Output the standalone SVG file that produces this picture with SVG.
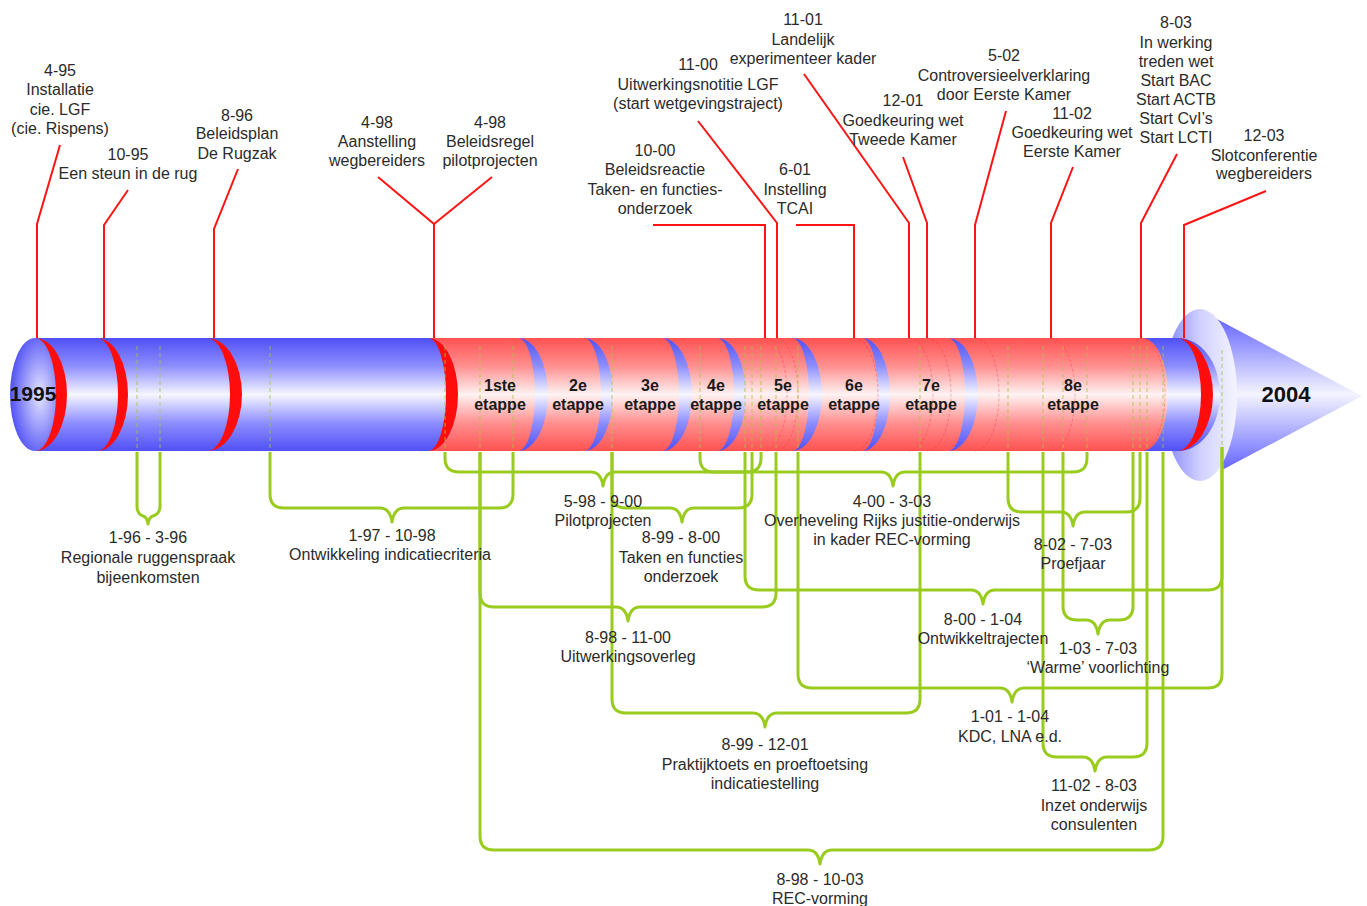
<svg xmlns="http://www.w3.org/2000/svg" width="1367" height="906" viewBox="0 0 1367 906">
<style>
.t{font-family:"Liberation Sans",Arial,sans-serif;font-size:16px;fill:#2b2b2b;text-anchor:middle}
.b{font-weight:bold;fill:#1a1a1a}
.rl{stroke:#ff1414;stroke-width:2;fill:none;stroke-linejoin:miter}
.br{stroke:#99cc1f;stroke-width:3;fill:none;stroke-linejoin:round}
.ds{stroke:#a6c43c;stroke-width:1;stroke-dasharray:4 3;fill:none;opacity:.8}
.ring{stroke:#ff2020;stroke-width:1;fill:none;opacity:.35;stroke-dasharray:3 2}
</style>
<defs>
<linearGradient id="gB" gradientUnits="userSpaceOnUse" x1="0" y1="338" x2="0" y2="451">
<stop offset="0" stop-color="#5050f6"/><stop offset=".25" stop-color="#8e8eff"/><stop offset=".5" stop-color="#f6f6ff"/><stop offset=".75" stop-color="#8e8eff"/><stop offset="1" stop-color="#5050f6"/>
</linearGradient>
<linearGradient id="gR" gradientUnits="userSpaceOnUse" x1="0" y1="338" x2="0" y2="451">
<stop offset="0" stop-color="#ff5252"/><stop offset=".25" stop-color="#ff9090"/><stop offset=".5" stop-color="#fff2f2"/><stop offset=".75" stop-color="#ff9090"/><stop offset="1" stop-color="#ff5252"/>
</linearGradient>
<linearGradient id="gC" x1="0" y1="0" x2="0" y2="1">
<stop offset="0" stop-color="#6464ff"/><stop offset=".5" stop-color="#f4f4ff"/><stop offset="1" stop-color="#6464ff"/>
</linearGradient>
<linearGradient id="gD" x1="0" y1="0" x2="1" y2="0">
<stop offset="0" stop-color="#8080ff"/><stop offset=".5" stop-color="#d0d0ff"/><stop offset="1" stop-color="#f4f4ff"/>
</linearGradient>
<radialGradient id="gE" cx=".6" cy=".5" r=".6">
<stop offset="0" stop-color="#e6e6ff"/><stop offset="1" stop-color="#5050f6"/>
</radialGradient>
</defs>

<g id="timeline">
<polygon points="1215,318 1362,396 1222,470" fill="url(#gC)"/>
<ellipse cx="1200" cy="395" rx="37" ry="86" fill="url(#gD)"/>
<path d="M35,338 H1178 A42,56.5 0 0 1 1178,451 H35 Z" fill="url(#gB)"/>
<path d="M428,338 H1142 A26,56.5 0 0 1 1142,451 H428 A30,56.5 0 0 0 428,338 Z" fill="url(#gR)"/>
<ellipse cx="35" cy="394.5" rx="25" ry="56.5" fill="url(#gE)"/>
<g fill="url(#gB)">
<path d="M518,338 A30,56.5 0 0 1 518,451 A17,56.5 0 0 0 518,338 Z"/>
<path d="M584,338 A29,56.5 0 0 1 584,451 A17,56.5 0 0 0 584,338 Z"/>
<path d="M662,338 A30,56.5 0 0 1 662,451 A17,56.5 0 0 0 662,338 Z"/>
<path d="M717,338 A29,56.5 0 0 1 717,451 A17,56.5 0 0 0 717,338 Z"/>
<path d="M792,338 A30,56.5 0 0 1 792,451 A17,56.5 0 0 0 792,338 Z"/>
<path d="M862,338 A28,56.5 0 0 1 862,451 A16,56.5 0 0 0 862,338 Z"/>
<path d="M948,338 A30,56.5 0 0 1 948,451 A17,56.5 0 0 0 948,338 Z"/>
</g>
<g fill="#ff0d0d">
<path d="M35,338 A32,56.5 0 0 1 35,451 A21,56.5 0 0 0 35,338 Z"/>
<path d="M97,338 A31,56.5 0 0 1 97,451 A21,56.5 0 0 0 97,338 Z"/>
<path d="M207,338 A35,56.5 0 0 1 207,451 A23,56.5 0 0 0 207,338 Z"/>
<path d="M428,338 A30,56.5 0 0 1 428,451 A18,56.5 0 0 0 428,338 Z"/>
<path d="M1177,338 A36,56.5 0 0 1 1177,451 A24,56.5 0 0 0 1177,338 Z"/>
</g>
<g class="ring">
<path d="M765,338 A22,56.5 0 0 1 765,451"/>
<path d="M776,338 A22,56.5 0 0 1 776,451"/>
<path d="M854,338 A24,56.5 0 0 1 854,451"/>
<path d="M909,338 A24,56.5 0 0 1 909,451"/>
<path d="M927,338 A24,56.5 0 0 1 927,451"/>
<path d="M975,338 A24,56.5 0 0 1 975,451"/>
<path d="M1051,338 A24,56.5 0 0 1 1051,451"/>
<path d="M1141,338 A24,56.5 0 0 1 1141,451"/>
</g>
<path class="ds" d="M137,346V451 M160,346V451 M270,346V451 M445,346V451 M480,346V451 M513,346V451 M612,346V451 M700,346V451 M745,346V451 M752,346V451 M761,346V451 M776,346V451 M798,346V451 M920,346V451 M1008,346V451 M1043,346V451 M1063,346V451 M1087,346V451 M1133,346V451 M1140,346V451 M1147,346V451 M1163,346V451 M1222,350V447"/>
<text class="t b" x="33" y="401" style="font-size:21px;fill:#111">1995</text>
<text class="t b" x="1286" y="402" style="font-size:22px;fill:#111">2004</text>
<text class="t b" x="500" y="391">1ste</text><text class="t b" x="500" y="410">etappe</text>
<text class="t b" x="578" y="391">2e</text><text class="t b" x="578" y="410">etappe</text>
<text class="t b" x="650" y="391">3e</text><text class="t b" x="650" y="410">etappe</text>
<text class="t b" x="716" y="391">4e</text><text class="t b" x="716" y="410">etappe</text>
<text class="t b" x="783" y="391">5e</text><text class="t b" x="783" y="410">etappe</text>
<text class="t b" x="854" y="391">6e</text><text class="t b" x="854" y="410">etappe</text>
<text class="t b" x="931" y="391">7e</text><text class="t b" x="931" y="410">etappe</text>
<text class="t b" x="1073" y="391">8e</text><text class="t b" x="1073" y="410">etappe</text>
</g>

<g id="connectors">
<g class="rl">
<polyline points="60,145 37,224 37,338"/>
<polyline points="128,190 104,225 104,338"/>
<polyline points="238,169 214,229 214,338"/>
<polyline points="378,177 434,224 434,338"/>
<polyline points="492,177 434,224"/>
<polyline points="653,225 765,225 765,338"/>
<polyline points="698,121 777,223 777,338"/>
<polyline points="796,225 854,225 854,338"/>
<polyline points="804,74 909,223 909,338"/>
<polyline points="903,157 927,223 927,338"/>
<polyline points="1006,111 975,225 975,338"/>
<polyline points="1073,167 1051,223 1051,338"/>
<polyline points="1177,154 1141,223 1141,338"/>
<polyline points="1266,191 1184,225 1184,338"/>
</g>
<g class="br">
<path d="M137,452 V506 Q137,514 143,516 Q147,517 148,524 Q149,517 153,516 Q160,514 160,506 V452"/>
<path d="M270,452 V494 Q270,508 284,508 H380 Q390,508 392,522 Q394,508 404,508 H499 Q513,508 513,494 V452"/>
<path d="M445,452 V458 Q445,472 459,472 H591 Q601,472 603,486 Q605,472 615,472 H747 Q761,472 761,458 V452"/>
<path d="M612,452 V494 Q612,508 626,508 H670 Q680,508 682,522 Q684,508 694,508 H738 Q752,508 752,494 V452"/>
<path d="M480,452 V593 Q480,607 494,607 H616 Q626,607 628,621 Q630,607 640,607 H762 Q776,607 776,593 V452"/>
<path d="M612,452 V699 Q612,713 626,713 H753 Q763,713 765,727 Q767,713 777,713 H906 Q920,713 920,699 V452"/>
<path d="M480,452 V836 Q480,850 494,850 H808 Q818,850 820,864 Q822,850 832,850 H1149 Q1163,850 1163,836 V452"/>
<path d="M700,452 V458 Q700,472 714,472 H881 Q891,472 893,486 Q895,472 905,472 H1073 Q1087,472 1087,458 V452"/>
<path d="M745,452 V576 Q745,590 759,590 H971 Q981,590 983,604 Q985,590 995,590 H1208 Q1222,590 1222,576 V447"/>
<path d="M1008,452 V498 Q1008,512 1022,512 H1061 Q1071,512 1073,526 Q1075,512 1085,512 H1126 Q1140,512 1140,498 V452"/>
<path d="M1063,452 V606 Q1063,620 1077,620 H1086 Q1096,620 1098,634 Q1100,620 1110,620 H1119 Q1133,620 1133,606 V452"/>
<path d="M798,452 V674 Q798,688 812,688 H1000 Q1010,688 1012,702 Q1014,688 1024,688 H1208 Q1222,688 1222,674 V447"/>
<path d="M1043,452 V743 Q1043,757 1057,757 H1083 Q1093,757 1095,771 Q1097,757 1107,757 H1133 Q1147,757 1147,743 V452"/>
</g>
</g>

<g id="e-4-95"><text class="t" x="60" y="76">4-95</text><text class="t" x="60" y="95">Installatie</text><text class="t" x="60" y="115">cie. LGF</text><text class="t" x="60" y="134">(cie. Rispens)</text></g>
<g id="e-10-95"><text class="t" x="128" y="160">10-95</text><text class="t" x="128" y="179">Een steun in de rug</text></g>
<g id="e-8-96"><text class="t" x="237" y="121">8-96</text><text class="t" x="237" y="139">Beleidsplan</text><text class="t" x="237" y="159">De Rugzak</text></g>
<g id="e-4-98a"><text class="t" x="377" y="128">4-98</text><text class="t" x="377" y="147">Aanstelling</text><text class="t" x="377" y="166">wegbereiders</text></g>
<g id="e-4-98b"><text class="t" x="490" y="128">4-98</text><text class="t" x="490" y="147">Beleidsregel</text><text class="t" x="490" y="166">pilotprojecten</text></g>
<g id="e-10-00"><text class="t" x="655" y="156">10-00</text><text class="t" x="655" y="175">Beleidsreactie</text><text class="t" x="655" y="195">Taken- en functies-</text><text class="t" x="655" y="214">onderzoek</text></g>
<g id="e-11-00"><text class="t" x="698" y="70">11-00</text><text class="t" x="698" y="90">Uitwerkingsnotitie LGF</text><text class="t" x="698" y="109">(start wetgevingstraject)</text></g>
<g id="e-6-01"><text class="t" x="795" y="175">6-01</text><text class="t" x="795" y="195">Instelling</text><text class="t" x="795" y="214">TCAI</text></g>
<g id="e-11-01"><text class="t" x="803" y="25">11-01</text><text class="t" x="803" y="45">Landelijk</text><text class="t" x="803" y="64">experimenteer kader</text></g>
<g id="e-12-01"><text class="t" x="903" y="106">12-01</text><text class="t" x="903" y="126">Goedkeuring wet</text><text class="t" x="903" y="145">Tweede Kamer</text></g>
<g id="e-5-02"><text class="t" x="1004" y="61">5-02</text><text class="t" x="1004" y="81">Controversieelverklaring</text><text class="t" x="1004" y="100">door Eerste Kamer</text></g>
<g id="e-11-02"><text class="t" x="1072" y="119">11-02</text><text class="t" x="1072" y="138">Goedkeuring wet</text><text class="t" x="1072" y="157">Eerste Kamer</text></g>
<g id="e-8-03"><text class="t" x="1176" y="28">8-03</text><text class="t" x="1176" y="48">In werking</text><text class="t" x="1176" y="67">treden wet</text><text class="t" x="1176" y="86">Start BAC</text><text class="t" x="1176" y="105">Start ACTB</text><text class="t" x="1176" y="124">Start CvI’s</text><text class="t" x="1176" y="143">Start LCTI</text></g>
<g id="e-12-03"><text class="t" x="1264" y="141">12-03</text><text class="t" x="1264" y="161">Slotconferentie</text><text class="t" x="1264" y="179">wegbereiders</text></g>

<g id="p-1-96"><text class="t" x="148" y="543">1-96 - 3-96</text><text class="t" x="148" y="563">Regionale ruggenspraak</text><text class="t" x="148" y="583">bijeenkomsten</text></g>
<g id="p-1-97"><text class="t" x="392" y="541">1-97 - 10-98</text><text class="t" x="390" y="560">Ontwikkeling indicatiecriteria</text></g>
<g id="p-5-98"><text class="t" x="603" y="507">5-98 - 9-00</text><text class="t" x="603" y="526">Pilotprojecten</text></g>
<g id="p-8-99a"><text class="t" x="681" y="543">8-99 - 8-00</text><text class="t" x="681" y="563">Taken en functies</text><text class="t" x="681" y="582">onderzoek</text></g>
<g id="p-4-00"><text class="t" x="892" y="507">4-00 - 3-03</text><text class="t" x="892" y="526">Overheveling Rijks justitie-onderwijs</text><text class="t" x="892" y="545">in kader REC-vorming</text></g>
<g id="p-8-02"><text class="t" x="1073" y="550">8-02 - 7-03</text><text class="t" x="1073" y="569">Proefjaar</text></g>
<g id="p-8-00"><text class="t" x="983" y="625">8-00 - 1-04</text><text class="t" x="983" y="644">Ontwikkeltrajecten</text></g>
<g id="p-8-98a"><text class="t" x="628" y="643">8-98 - 11-00</text><text class="t" x="628" y="662">Uitwerkingsoverleg</text></g>
<g id="p-1-03"><text class="t" x="1098" y="654">1-03 - 7-03</text><text class="t" x="1098" y="673">‘Warme’ voorlichting</text></g>
<g id="p-1-01"><text class="t" x="1010" y="722">1-01 - 1-04</text><text class="t" x="1010" y="742">KDC, LNA e.d.</text></g>
<g id="p-8-99b"><text class="t" x="765" y="750">8-99 - 12-01</text><text class="t" x="765" y="770">Praktijktoets en proeftoetsing</text><text class="t" x="765" y="789">indicatiestelling</text></g>
<g id="p-11-02"><text class="t" x="1094" y="791">11-02 - 8-03</text><text class="t" x="1094" y="811">Inzet onderwijs</text><text class="t" x="1094" y="830">consulenten</text></g>
<g id="p-8-98b"><text class="t" x="820" y="885">8-98 - 10-03</text><text class="t" x="820" y="904">REC-vorming</text></g>
</svg>
